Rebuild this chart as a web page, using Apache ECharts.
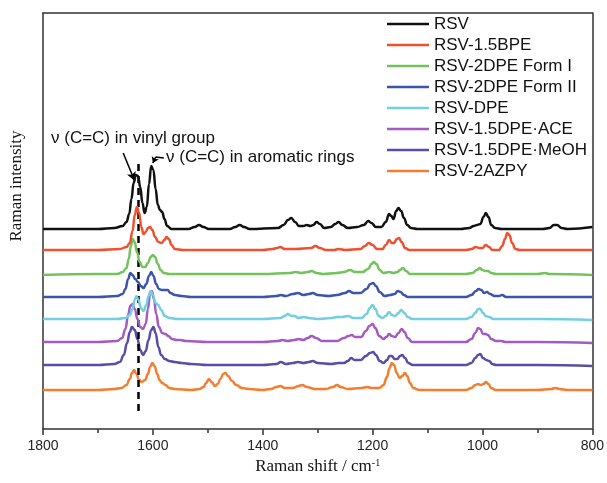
<!DOCTYPE html>
<html>
<head>
<meta charset="utf-8">
<script src="https://cdn.jsdelivr.net/npm/echarts@6/dist/echarts.min.js"></script>
<style>
  html, body { margin: 0; padding: 0; background: #fff; }
  #main { width: 607px; height: 483px; }
</style>
</head>
<body>
<div id="main"></div>
<script>
// 拉曼光谱数据 [波数, 强度(已错开)]
const seriesNames = ['RSV', 'RSV-1.5BPE', 'RSV-2DPE Form I', 'RSV-2DPE Form II', 'RSV-DPE', 'RSV-1.5DPE·ACE', 'RSV-1.5DPE·MeOH', 'RSV-2AZPY']
const xTicks = [1800, 1600, 1400, 1200, 1000, 800]

const rsv = [[1800,200],[1700,200],[1670,201],[1655,203],[1648,207],[1643,215],[1639,230],[1635,246],[1631,254],[1627,253],[1623,242],[1619,226],[1615,216],[1611,222],[1607,245],[1603,263],[1599,259],[1595,240],[1591,224],[1587,219],[1583,217],[1579,210],[1574,203],[1566,200],[1535,200],[1524,202],[1516,204],[1508,202],[1498,200],[1460,200],[1450,202],[1442,204],[1434,202],[1424,200],[1372,201],[1362,204],[1354,209],[1348,211],[1341,207],[1334,203],[1326,203],[1320,204],[1313,203],[1308,204],[1302,207],[1296,205],[1288,201],[1276,202],[1268,205],[1262,207],[1255,204],[1245,201],[1228,202],[1216,204],[1208,208],[1202,206],[1194,202],[1184,202],[1176,207],[1170,215],[1166,213],[1162,210],[1157,218],[1153,221],[1148,218],[1143,211],[1137,204],[1130,201],[1118,200],[1040,200],[1024,201],[1016,203],[1010,204],[1004,205],[998,212],[994,216],[989,212],[984,204],[977,201],[965,200],[890,200],[878,201],[870,204],[864,204],[856,201],[845,200],[800,202]]

const bpe = [[1800,179],[1700,179],[1660,180],[1648,182],[1642,186],[1637,198],[1633,214],[1629,222],[1625,216],[1621,202],[1617,195],[1613,197],[1609,201],[1605,202],[1601,199],[1596,192],[1590,187],[1584,186],[1579,189],[1575,192],[1571,190],[1566,184],[1560,180],[1545,179],[1400,179],[1382,180],[1374,181],[1368,182],[1360,180],[1340,180],[1312,181],[1304,183],[1296,181],[1285,179],[1270,179],[1262,180],[1250,179],[1222,180],[1214,183],[1207,186],[1200,184],[1192,180],[1182,180],[1176,184],[1170,189],[1165,186],[1161,186],[1156,190],[1152,191],[1147,187],[1141,181],[1133,179],[1100,179],[1030,179],[1020,180],[1012,182],[1006,181],[1000,181],[994,184],[988,182],[982,179],[970,179],[964,183],[959,190],[955,196],[951,194],[946,186],[940,180],[932,179],[880,179],[800,179]]

const dpeForm1 = [[1800,154],[1700,155],[1665,155],[1655,157],[1648,161],[1644,170],[1640,183],[1637,190],[1633,187],[1629,177],[1624,167],[1619,162],[1614,162],[1609,166],[1604,172],[1600,174],[1596,172],[1591,165],[1586,159],[1580,156],[1570,155],[1500,155],[1400,155],[1350,156],[1340,157],[1330,156],[1318,157],[1311,158],[1302,156],[1290,155],[1265,156],[1252,157],[1241,159],[1232,157],[1218,157],[1208,160],[1202,165],[1198,167],[1193,165],[1187,159],[1180,156],[1170,157],[1162,156],[1155,157],[1150,159],[1145,161],[1139,158],[1132,155],[1100,155],[1030,155],[1018,156],[1010,159],[1005,161],[1000,159],[995,158],[990,158],[984,156],[975,155],[900,155],[886,156],[878,155],[800,154]]

const dpeForm2 = [[1800,132],[1700,132],[1665,133],[1655,135],[1650,140],[1645,150],[1641,156],[1637,154],[1632,150],[1627,147],[1622,143],[1617,141],[1612,145],[1607,153],[1603,157],[1599,153],[1594,145],[1589,140],[1584,139],[1578,139],[1573,139],[1568,136],[1560,134],[1548,133],[1530,132],[1500,132],[1400,132],[1375,133],[1367,134],[1358,133],[1345,135],[1336,136],[1326,134],[1316,135],[1309,136],[1300,134],[1280,133],[1265,134],[1250,136],[1243,138],[1235,136],[1222,136],[1211,140],[1204,145],[1199,146],[1194,143],[1187,137],[1178,133],[1168,134],[1160,135],[1154,138],[1149,137],[1143,134],[1136,132],[1100,132],[1030,132],[1020,134],[1012,138],[1007,140],[1002,139],[997,136],[992,137],[986,135],[978,133],[970,133],[964,134],[957,132],[900,132],[800,132]]

const dpe = [[1800,110],[1700,110],[1665,110],[1650,111],[1642,114],[1637,120],[1633,129],[1630,133],[1626,129],[1622,121],[1617,118],[1612,124],[1608,133],[1604,138],[1600,134],[1595,126],[1590,124],[1585,119],[1578,113],[1570,111],[1555,110],[1400,110],[1368,111],[1360,113],[1354,115],[1348,113],[1342,113],[1335,111],[1325,112],[1316,111],[1300,110],[1275,111],[1265,112],[1255,112],[1245,113],[1235,111],[1220,111],[1211,115],[1205,121],[1200,124],[1195,120],[1189,113],[1182,111],[1176,113],[1170,117],[1165,114],[1159,113],[1153,116],[1148,119],[1142,116],[1136,112],[1128,110],[1100,110],[1030,110],[1020,112],[1013,116],[1008,120],[1004,120],[999,116],[994,113],[988,112],[980,110],[900,110],[800,109]]

const dpeAce = [[1800,87],[1700,87],[1665,88],[1656,91],[1650,100],[1645,114],[1641,123],[1637,125],[1633,120],[1628,110],[1623,102],[1618,100],[1613,105],[1609,120],[1605,136],[1602,138],[1598,130],[1594,115],[1589,102],[1583,96],[1577,95],[1572,93],[1565,90],[1557,89],[1550,89],[1540,88],[1500,87],[1400,87],[1372,88],[1364,89],[1355,88],[1342,89],[1335,90],[1326,89],[1318,91],[1311,93],[1303,91],[1292,88],[1265,88],[1252,91],[1244,93],[1238,94],[1232,92],[1221,92],[1212,98],[1206,103],[1200,105],[1195,101],[1188,93],[1180,90],[1175,92],[1170,95],[1165,93],[1159,92],[1153,96],[1147,100],[1142,97],[1136,91],[1128,87],[1100,87],[1030,87],[1020,90],[1013,96],[1008,101],[1004,100],[999,95],[994,95],[990,94],[984,90],[975,88],[966,88],[958,87],[900,87],[800,86]]

const dpeMeoh = [[1800,64],[1700,64],[1670,65],[1660,67],[1653,74],[1647,86],[1642,97],[1638,102],[1633,99],[1628,90],[1623,79],[1618,74],[1613,78],[1608,89],[1603,99],[1599,102],[1595,96],[1590,82],[1585,74],[1578,70],[1570,68],[1560,67],[1548,66],[1530,65],[1500,64],[1400,64],[1375,65],[1367,67],[1358,65],[1345,66],[1336,67],[1326,66],[1316,67],[1309,68],[1300,66],[1275,65],[1262,66],[1252,66],[1245,68],[1239,71],[1233,69],[1222,69],[1212,73],[1205,76],[1199,77],[1194,74],[1187,68],[1180,66],[1174,69],[1169,73],[1165,73],[1160,70],[1155,70],[1150,73],[1146,74],[1141,71],[1135,66],[1127,64],[1100,64],[1030,64],[1020,66],[1013,71],[1008,74],[1004,75],[999,71],[993,69],[988,68],[982,65],[975,64],[900,64],[800,63]]

const azpy = [[1800,39],[1700,39],[1670,40],[1657,41],[1648,44],[1642,50],[1638,56],[1634,59],[1630,55],[1625,49],[1620,47],[1614,49],[1609,55],[1605,62],[1601,66],[1597,63],[1592,55],[1588,49],[1583,46],[1577,44],[1570,41],[1560,40],[1530,39],[1515,40],[1508,42],[1503,46],[1498,50],[1493,47],[1487,43],[1482,45],[1477,50],[1472,55],[1468,56],[1463,53],[1456,48],[1448,44],[1438,41],[1425,40],[1400,39],[1385,40],[1375,42],[1368,43],[1360,41],[1345,41],[1335,43],[1328,44],[1320,42],[1305,40],[1285,40],[1272,42],[1265,44],[1258,42],[1245,40],[1220,41],[1210,42],[1202,41],[1188,41],[1180,44],[1174,52],[1169,61],[1165,66],[1161,64],[1156,56],[1151,51],[1146,53],[1141,56],[1137,53],[1132,46],[1126,41],[1115,39],[1030,39],[1020,41],[1013,44],[1008,45],[1003,44],[998,45],[994,47],[989,45],[984,41],[976,39],[900,39],[875,40],[867,41],[860,40],[845,39],[800,39]]

// 虚线位置 (C=C 乙烯基)
const dashPos = 1627
const dashRange = [18, 269]

const allData = [rsv, bpe, dpeForm1, dpeForm2, dpe, dpeAce, dpeMeoh, azpy]
const colors = ['#111111', '#f0502e', '#74c25c', '#3b55ae', '#72cfe2', '#a35bc2', '#5b4ca8', '#f47d30']

let series = allData.map(function (d, i) {
  return {
    name: seriesNames[i],
    type: 'line',
    data: d,
    showSymbol: false,
    smooth: 0.45,
    smoothMonotone: 'x',
    lineStyle: { width: 2.5, color: colors[i] },
    itemStyle: { color: colors[i] },
    z: 10 - i
  }
})

// 标注: 虚线和箭头
series[0].markLine = {
  silent: true,
  animation: false,
  label: { show: false },
  data: [
    [{ coord: [dashPos, dashRange[0]], symbol: 'none' }, { coord: [dashPos, dashRange[1]], symbol: 'none',
      lineStyle: { color: '#000', width: 2.5, type: [7, 5] } }],
    [{ coord: [1654, 276], symbol: 'none' }, { coord: [1633, 248], symbol: 'arrow', symbolSize: [7, 9],
      lineStyle: { color: '#000', width: 1.5, type: 'solid' } }],
    [{ coord: [1580, 271], symbol: 'none' }, { coord: [1595, 272], symbol: 'none',
      lineStyle: { color: '#000', width: 1.5, type: 'solid' } }],
    [{ coord: [1595, 272], symbol: 'none' }, { coord: [1600, 266], symbol: 'arrow', symbolSize: [6, 6],
      lineStyle: { color: '#000', width: 1.5, type: 'solid' } }]
  ]
}

let option = {
  animation: false,
  backgroundColor: '#fff',
  grid: { left: 43, right: 14, top: 13, bottom: 54 },
  legend: {
    orient: 'vertical',
    left: 382,
    top: 10,
    icon: 'rect',
    itemWidth: 42,
    itemHeight: 2.5,
    itemGap: 3,
    data: seriesNames,
    textStyle: { fontFamily: 'Liberation Sans', fontSize: 17, color: '#111', lineHeight: 18 }
  },
  xAxis: [{
    type: 'value',
    inverse: true,
    min: 800,
    max: 1800,
    interval: 200,
    name: '{n|Raman shift / cm}{s|-1}',
    nameLocation: 'middle',
    nameGap: 29,
    nameTextStyle: {
      rich: {
        n: { fontFamily: 'Liberation Serif', fontSize: 17, color: '#111' },
        s: { fontFamily: 'Liberation Serif', fontSize: 10, color: '#111', verticalAlign: 'top', padding: [0, 0, 8, 0] }
      }
    },
    axisLine: { lineStyle: { color: '#333', width: 1.5 } },
    axisTick: { length: 6, lineStyle: { color: '#333', width: 1.5 } },
    minorTick: { show: true, splitNumber: 2, length: 4, lineStyle: { color: '#333', width: 1.5 } },
    axisLabel: { margin: 10, fontFamily: 'Liberation Sans', fontSize: 14, color: '#222',
      formatter: function (v) { return xTicks.indexOf(v) >= 0 ? String(v) : '' } },
    splitLine: { show: false }
  }, {
    type: 'value',
    position: 'top',
    inverse: true,
    min: 800,
    max: 1800,
    axisLine: { show: true, onZero: false, lineStyle: { color: '#333', width: 1.5 } },
    axisTick: { show: false },
    axisLabel: { show: false },
    splitLine: { show: false }
  }],
  yAxis: [{
    type: 'value',
    min: 0,
    max: 416,
    axisLine: { show: true, onZero: false, lineStyle: { color: '#333', width: 1.5 } },
    axisTick: { show: false },
    axisLabel: { show: false },
    splitLine: { show: false }
  }, {
    type: 'value',
    position: 'right',
    min: 0,
    max: 416,
    axisLine: { show: true, onZero: false, lineStyle: { color: '#333', width: 1.5 } },
    axisTick: { show: false },
    axisLabel: { show: false },
    splitLine: { show: false }
  }],
  graphic: [
    { type: 'text', x: 17, y: 186, rotation: Math.PI / 2,
      style: { text: 'Raman intensity', fontFamily: 'Liberation Serif', fontSize: 17, fill: '#111', align: 'center', verticalAlign: 'middle' } },
    { type: 'text', left: 51, top: 130, style: { text: 'ν (C=C) in vinyl group', fontFamily: 'Liberation Sans', fontSize: 17, fill: '#111' } },
    { type: 'text', left: 166, top: 149, style: { text: 'ν (C=C) in aromatic rings', fontFamily: 'Liberation Sans', fontSize: 17, fill: '#111' } }
  ],
  series: series
}

echarts.init(document.getElementById('main')).setOption(option)
</script>
</body>
</html>
